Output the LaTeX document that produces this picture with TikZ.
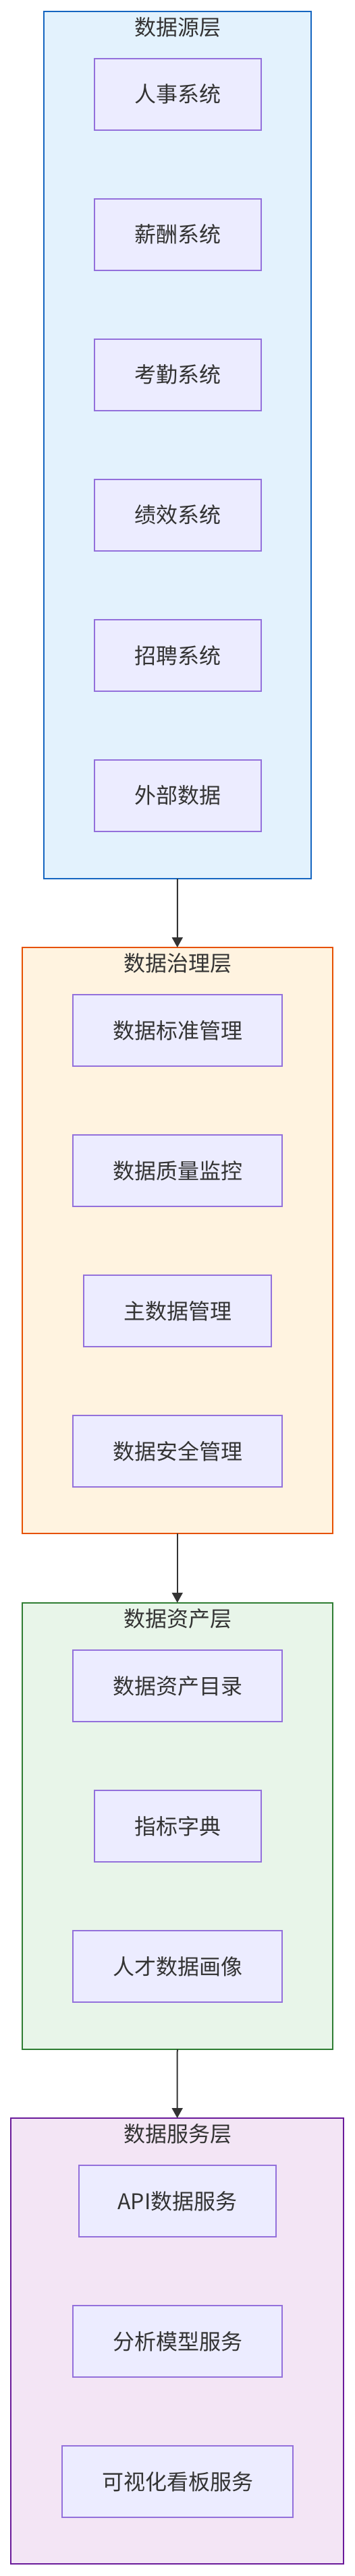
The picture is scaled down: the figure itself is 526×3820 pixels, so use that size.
\documentclass[tikz,border=0pt]{standalone}
\usepackage{fontspec}
\newfontfamily\cjk{Noto Sans CJK SC}
\usetikzlibrary{arrows.meta}
\definecolor{txt}{HTML}{333333}
\definecolor{nodefill}{HTML}{ECECFF}
\definecolor{nodeline}{HTML}{9370DB}
\definecolor{bluefill}{HTML}{E3F2FD}
\definecolor{blueline}{HTML}{1565C0}
\definecolor{orangefill}{HTML}{FFF3E0}
\definecolor{orangeline}{HTML}{E65100}
\definecolor{greenfill}{HTML}{E8F5E9}
\definecolor{greenline}{HTML}{2E7D32}
\definecolor{purplefill}{HTML}{F3E5F5}
\definecolor{purpleline}{HTML}{6A1B9A}
\tikzset{
  x=1pt, y=-1pt,
  layer/.style={draw, line width=2pt, rectangle, inner sep=0pt, outer sep=0pt},
  item/.style={draw=nodeline, fill=nodefill, line width=2pt, rectangle, inner sep=0pt, outer sep=0pt,
    minimum height=106pt, text=txt, font=\cjk\fontsize{32pt}{38pt}\selectfont},
  ltitle/.style={text=txt, inner sep=0pt, font=\cjk\fontsize{32pt}{38pt}\selectfont},
  flow/.style={draw=txt, line width=2pt, -{Triangle[length=15pt,width=16pt]}}
}
\begin{document}
\begin{tikzpicture}
\useasboundingbox[fill=white] (0,0) rectangle (526,3820);
% layers
\node[layer, draw=blueline, fill=bluefill, minimum width=396pt, minimum height=1286pt] (src) at (262.9,660) {};
\node[layer, draw=orangeline, fill=orangefill, minimum width=460.5pt, minimum height=869pt] (gov) at (262.75,1839.5) {};
\node[layer, draw=greenline, fill=greenfill, minimum width=460.5pt, minimum height=662pt] (asset) at (262.75,2707.75) {};
\node[layer, draw=purpleline, fill=purplefill, minimum width=492.5pt, minimum height=661pt] (svc) at (262.65,3471.5) {};
% titles
\node[ltitle] (srcT) at (263,40) {数据源层};
\node[ltitle] (govT) at (263,1428) {数据治理层};
\node[ltitle] (assetT) at (263,2400) {数据资产层};
\node[ltitle] (svcT) at (263,3164.5) {数据服务层};
% data source items
\node[item, minimum width=247pt] (hr) at (263,139.7) {人事系统};
\node[item, minimum width=247pt] (pay) at (263,347.7) {薪酬系统};
\node[item, minimum width=247pt] (att) at (263,555.8) {考勤系统};
\node[item, minimum width=247pt] (perf) at (263,763.8) {绩效系统};
\node[item, minimum width=247pt] (rec) at (263,971.8) {招聘系统};
\node[item, minimum width=247pt] (ext) at (263,1179.8) {外部数据};
% governance items
\node[item, minimum width=310.6pt] (std) at (263,1528) {数据标准管理};
\node[item, minimum width=310.6pt] (qual) at (263,1736) {数据质量监控};
\node[item, minimum width=278pt] (mdm) at (263,1944) {主数据管理};
\node[item, minimum width=310.6pt] (sec) at (263,2152) {数据安全管理};
% asset items
\node[item, minimum width=310.6pt] (cat) at (263,2500) {数据资产目录};
\node[item, minimum width=247pt] (dict) at (263,2708) {指标字典};
\node[item, minimum width=310.6pt] (talent) at (263,2916) {人才数据画像};
% service items
\node[item, minimum width=292.3pt] (api) at (263,3264) {API数据服务};
\node[item, minimum width=310.6pt] (model) at (263,3472) {分析模型服务};
\node[item, minimum width=342.4pt] (viz) at (263,3680) {可视化看板服务};
% flows
\draw[flow] (src.south) -- (gov.north);
\draw[flow] (gov.south) -- (asset.north);
\draw[flow] (asset.south) -- (svc.north);
\end{tikzpicture}
\end{document}
